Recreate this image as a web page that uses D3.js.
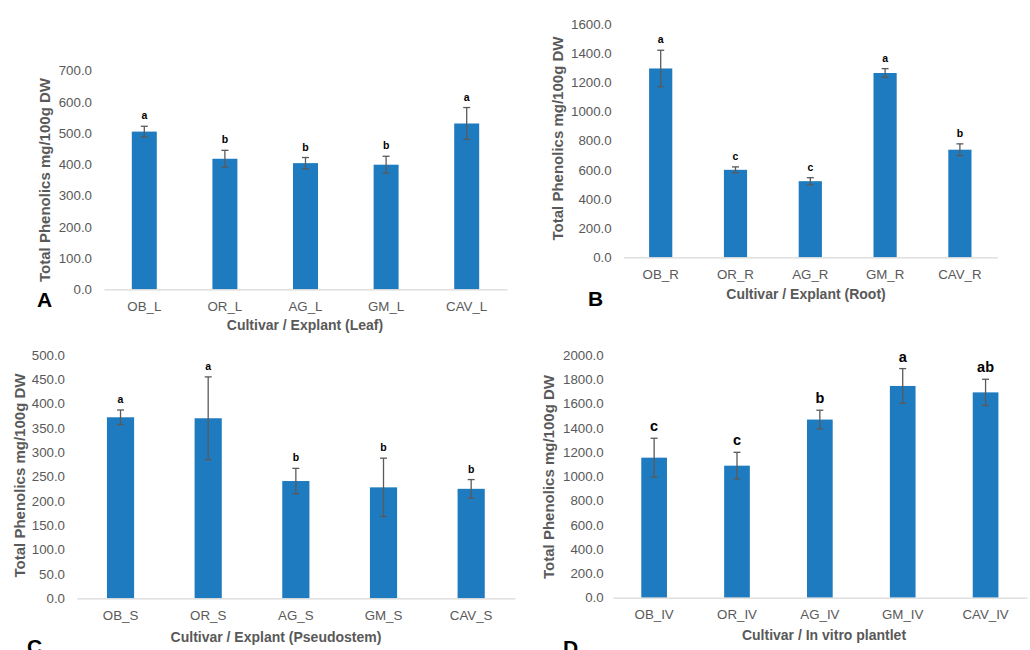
<!DOCTYPE html>
<html>
<head>
<meta charset="utf-8">
<script src="https://cdn.jsdelivr.net/npm/d3@7"></script>
<style>
  body { margin: 0; background: #fff; }
  text { font-family: Arial, "Liberation Sans", sans-serif; }
</style>
</head>
<body>
<div id="chart"></div>
<script>
/* DATA */

// panel A - leaf
const catsA = ["OB_L", "OR_L", "AG_L", "GM_L", "CAV_L"];
const valsA = [505, 418, 404, 399, 531];
const errsA = [17, 27, 18, 27, 51];
const lettersA = ["a", "b", "b", "b", "a"];

// panel B - root
const catsB = ["OB_R", "OR_R", "AG_R", "GM_R", "CAV_R"];
const valsB = [1295, 600, 522, 1264, 738];
const errsB = [125, 20, 24, 30, 40];
const lettersB = ["a", "c", "c", "a", "b"];

// panel C - pseudostem
const catsC = ["OB_S", "OR_S", "AG_S", "GM_S", "CAV_S"];
const valsC = [372, 370, 241, 228, 225];
const errsC = [15, 85, 26, 60, 19];
const lettersC = ["a", "a", "b", "b", "b"];

// panel D - in vitro plantlet
const catsD = ["OB_IV", "OR_IV", "AG_IV", "GM_IV", "CAV_IV"];
const valsD = [1154, 1088, 1468, 1745, 1692];
const errsD = [160, 110, 77, 143, 108];
const lettersD = ["c", "c", "b", "a", "ab"];

const yTitle = "Total Phenolics mg/100g DW";

/* LAYOUT */

const barColor = "#1f7bbf";
const textGrey = "#595959";

// one entry per panel, built from the arrays above
const panels = [
    { tag: "A", cats: catsA, vals: valsA, errs: errsA, letters: lettersA,
      yMax: 700, yStep: 100, x0: 104, x1: 507, yTop: 70.7, yBot: 289.3, tickPad: 12,
      xTitle: "Cultivar / Explant (Leaf)", xTitleX: 305, xTitleY: 330,
      yTitleX: 45, yTitleY: 180, tagX: 37, tagY: 307, letterSize: 10.5 },
    { tag: "B", cats: catsB, vals: valsB, errs: errsB, letters: lettersB,
      yMax: 1600, yStep: 200, x0: 623.3, x1: 997.3, yTop: 24, yBot: 257.3, tickPad: 11.6,
      xTitle: "Cultivar / Explant (Root)", xTitleX: 806, xTitleY: 299,
      yTitleX: 558, yTitleY: 138.5, tagX: 588, tagY: 306, letterSize: 10.5 },
    { tag: "C", cats: catsC, vals: valsC, errs: errsC, letters: lettersC,
      yMax: 500, yStep: 50, x0: 76.7, x1: 515, yTop: 355, yBot: 598.3, tickPad: 11.7,
      xTitle: "Cultivar / Explant (Pseudostem)", xTitleX: 276, xTitleY: 641.5,
      yTitleX: 20, yTitleY: 475.5, tagX: 27, tagY: 654, letterSize: 10.5 },
    { tag: "D", cats: catsD, vals: valsD, errs: errsD, letters: lettersD,
      yMax: 2000, yStep: 200, x0: 612.7, x1: 1027, yTop: 355, yBot: 597.7, tickPad: 9,
      xTitle: "Cultivar / In vitro plantlet", xTitleX: 824, xTitleY: 640,
      yTitleX: 549, yTitleY: 477, tagX: 563, tagY: 655, letterSize: 14.5 }
];

const svg = d3.select("#chart").append("svg")
    .attr("width", 1030)
    .attr("height", 650);

panels.forEach(drawPanel);

/* FUNCTIONS */

function drawPanel(p) {
    const g = svg.append("g");

    const x = d3.scaleBand()
        .domain(p.cats)
        .range([p.x0, p.x1])
        .paddingInner(0.69)
        .paddingOuter(0.345);

    const y = d3.scaleLinear()
        .domain([0, p.yMax])
        .range([p.yBot, p.yTop]);

    // y axis: labels only
    const yAxis = g.append("g")
        .attr("transform", `translate(${p.x0},0)`)
        .call(d3.axisLeft(y)
            .tickValues(d3.range(0, p.yMax + 1, p.yStep))
            .tickFormat(d3.format(".1f"))
            .tickSize(0)
            .tickPadding(p.tickPad));
    yAxis.select(".domain").remove();
    yAxis.selectAll("text")
        .style("font-size", "13.3px")
        .style("font-family", "Arial, 'Liberation Sans', sans-serif")
        .attr("fill", textGrey);

    // bars
    g.selectAll("rect.bar")
        .data(p.cats)
        .enter()
            .append("rect")
            .attr("class", "bar")
            .attr("x", (d) => x(d))
            .attr("width", x.bandwidth())
            .attr("y", (d, i) => y(p.vals[i]))
            .attr("height", (d, i) => p.yBot - y(p.vals[i]))
            .attr("fill", barColor);

    // x axis
    const xAxis = g.append("g")
        .attr("transform", `translate(0,${p.yBot})`)
        .call(d3.axisBottom(x).tickSize(0).tickPadding(12));
    xAxis.select(".domain")
        .attr("stroke", "#d9d9d9")
        .attr("stroke-width", 1.3);
    xAxis.selectAll("text")
        .style("font-size", "13.3px")
        .style("font-family", "Arial, 'Liberation Sans', sans-serif")
        .attr("fill", textGrey);

    // error bars
    const err = g.selectAll("g.err")
        .data(p.cats)
        .enter()
            .append("g")
            .attr("class", "err")
            .attr("stroke", "#5a5a5a")
            .attr("stroke-width", 1.3);
    const cx = (d) => x(d) + x.bandwidth() / 2;
    err.append("line")
        .attr("x1", cx).attr("x2", cx)
        .attr("y1", (d, i) => y(p.vals[i] - p.errs[i]))
        .attr("y2", (d, i) => y(p.vals[i] + p.errs[i]));
    err.append("line")
        .attr("x1", (d) => cx(d) - 3.5).attr("x2", (d) => cx(d) + 3.5)
        .attr("y1", (d, i) => y(p.vals[i] + p.errs[i]))
        .attr("y2", (d, i) => y(p.vals[i] + p.errs[i]));
    err.append("line")
        .attr("x1", (d) => cx(d) - 3.5).attr("x2", (d) => cx(d) + 3.5)
        .attr("y1", (d, i) => y(p.vals[i] - p.errs[i]))
        .attr("y2", (d, i) => y(p.vals[i] - p.errs[i]));

    // significance letters
    g.selectAll("text.letter")
        .data(p.cats)
        .enter()
            .append("text")
            .attr("class", "letter")
            .attr("x", cx)
            .attr("y", (d, i) => y(p.vals[i] + p.errs[i]) - 7)
            .attr("text-anchor", "middle")
            .style("font-size", p.letterSize + "px")
            .style("font-weight", "bold")
            .attr("fill", "#000")
            .text((d, i) => p.letters[i]);

    // axis titles
    g.append("text")
        .attr("x", p.xTitleX)
        .attr("y", p.xTitleY)
        .attr("text-anchor", "middle")
        .style("font-size", "14px")
        .style("font-weight", "bold")
        .attr("fill", textGrey)
        .text(p.xTitle);

    g.append("text")
        .attr("transform", `translate(${p.yTitleX},${p.yTitleY}) rotate(-90)`)
        .attr("dy", "0.35em")
        .attr("text-anchor", "middle")
        .style("font-size", "15px")
        .style("font-weight", "bold")
        .attr("fill", textGrey)
        .text(yTitle);

    // panel tag
    g.append("text")
        .attr("x", p.tagX)
        .attr("y", p.tagY)
        .style("font-size", "21px")
        .style("font-weight", "bold")
        .attr("fill", "#000")
        .text(p.tag);
}
</script>
</body>
</html>
